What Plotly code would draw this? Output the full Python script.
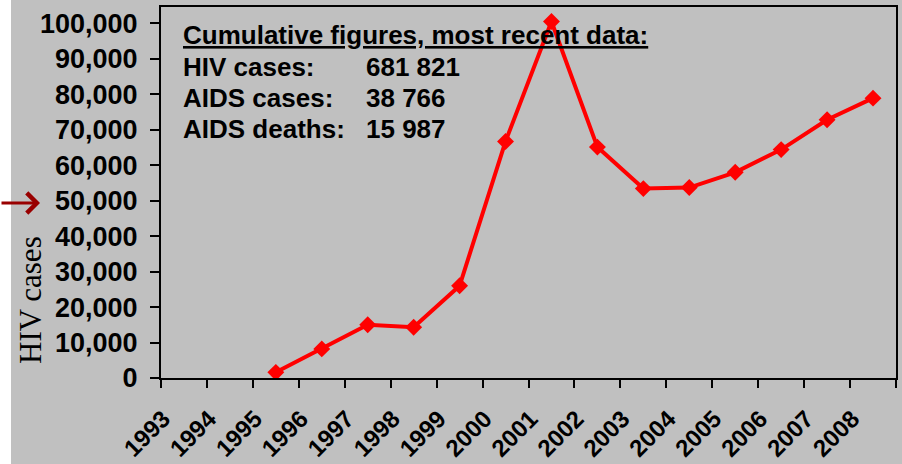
import plotly.graph_objects as go

years = [str(y) for y in range(1993, 2009)]
hiv_cases = [None, None, 1600, 8200, 15000, 14300, 26000, 66700, 100500,
             65100, 53400, 53700, 58000, 64400, 72800, 78900]
y_ticks = list(range(0, 100001, 10000))
summary_title = "Cumulative figures, most recent data:"
summary_labels = ["HIV cases:", "AIDS cases:", "AIDS deaths:"]
summary_values = ["681 821", "38 766", "15 987"]

FONT = "Liberation Sans, Arial, sans-serif"
idx = list(range(len(years)))

fig = go.Figure()
fig.add_trace(go.Scatter(
    x=idx, y=hiv_cases, mode="lines+markers",
    line=dict(color="#FF0000", width=4),
    marker=dict(symbol="diamond", size=13, color="#FF0000"),
    connectgaps=False, showlegend=False, hoverinfo="skip",
))
# invisible trace to activate label axis
fig.add_trace(go.Scatter(x=[idx[0]], y=[0], xaxis="x2", mode="markers",
                         marker=dict(opacity=0), showlegend=False, hoverinfo="skip"))

xr = [-0.5, len(years) - 0.5]
fig.update_layout(
    width=902, height=464,
    margin=dict(l=161, r=6, t=7, b=86, autoexpand=False),
    paper_bgcolor="#C0C0C0", plot_bgcolor="#C0C0C0",
    xaxis=dict(range=xr, tickmode="array",
               tickvals=[i - 0.5 for i in idx] + [len(years) - 0.5],
               showticklabels=False, ticks="outside", ticklen=8, tickwidth=2,
               tickcolor="#000", showline=True, linecolor="#000", linewidth=2,
               mirror=True, showgrid=False, zeroline=False),
    xaxis2=dict(range=xr, overlaying="x", anchor="y", side="bottom",
                tickmode="array", tickvals=[i - 0.45 for i in idx], ticktext=years,
                tickangle=-45, ticks="", showline=False, showgrid=False,
                zeroline=False, ticklabelstandoff=21,
                tickfont=dict(family=FONT, size=24, color="#000", weight="bold")),
    yaxis=dict(range=[0, 104600], tickmode="array", tickvals=y_ticks,
               tickformat=",", ticks="outside", ticklen=9, tickwidth=2,
               tickcolor="#000", showline=True, linecolor="#000", linewidth=2,
               mirror=True, showgrid=False, zeroline=False,
               ticklabelstandoff=7,
               tickfont=dict(family=FONT, size=27, color="#000", weight="bold")),
)

shapes = [dict(type="rect", xref="paper", yref="paper", x0=-0.25, x1=(11 - 161) / 735,
               y0=-0.3, y1=1.1, fillcolor="white", line=dict(width=0), layer="below")]
fig.update_layout(shapes=shapes)

ann = []
ann.append(dict(xref="paper", yref="paper", x=(181 - 161) / 735, y=(378 - 35) / 371,
                xanchor="left", yanchor="middle", showarrow=False,
                text="<b><u>" + summary_title + "</u></b>",
                font=dict(family=FONT, size=26, color="#000")))
for k, (lab, val) in enumerate(zip(summary_labels, summary_values)):
    yy = (378 - (67 + 31 * k)) / 371
    ann.append(dict(xref="paper", yref="paper", x=(181 - 161) / 735, y=yy,
                    xanchor="left", yanchor="middle", showarrow=False,
                    text="<b>" + lab + "</b>",
                    font=dict(family=FONT, size=26, color="#000")))
    ann.append(dict(xref="paper", yref="paper", x=(364 - 161) / 735, y=yy,
                    xanchor="left", yanchor="middle", showarrow=False,
                    text="<b>" + val + "</b>",
                    font=dict(family=FONT, size=26, color="#000")))
ann.append(dict(xref="paper", yref="paper", x=(30 - 161) / 735, y=(378 - 300) / 371,
                xanchor="center", yanchor="middle", showarrow=False, textangle=-90,
                text="HIV cases",
                font=dict(family="Liberation Serif, Times New Roman, serif", size=31,
                          color="#000")))
ann.append(dict(xref="paper", yref="paper", x=(40 - 161) / 735, y=(378 - 203) / 371,
                text="", showarrow=True, axref="pixel", ayref="pixel", ax=-42, ay=0,
                arrowhead=4, arrowsize=1.3, arrowwidth=3, arrowcolor="#990000",
                standoff=0))
fig.update_layout(annotations=ann)

fig.write_html("out.html", config={"displayModeBar": False},
               post_script="document.body.style.margin='0px';")
